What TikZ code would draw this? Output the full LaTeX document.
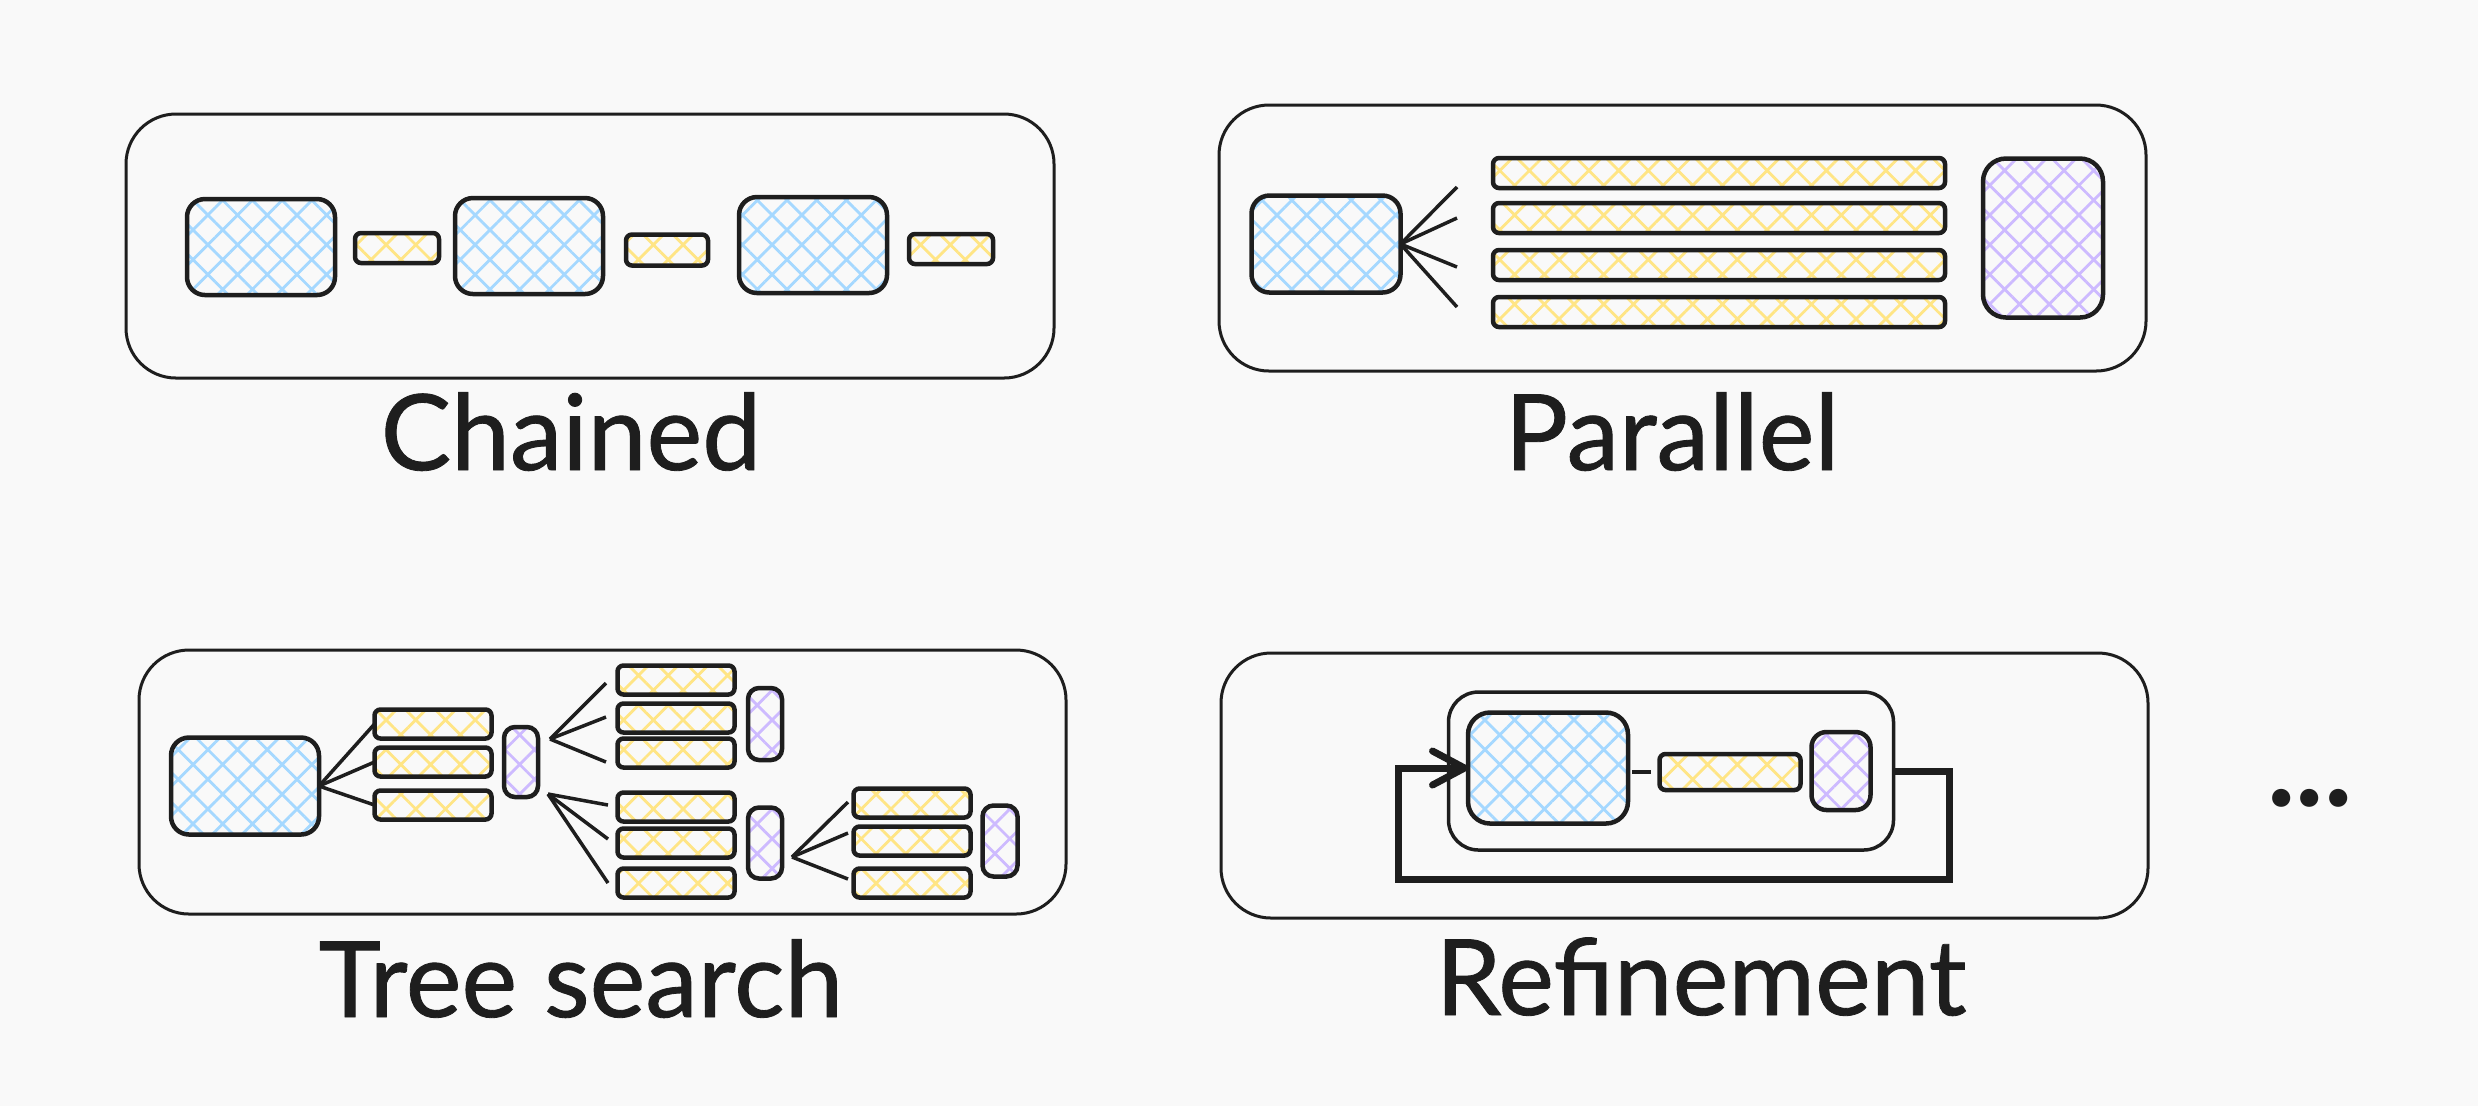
\documentclass[tikz,border=0pt]{standalone}
\usepackage{fontspec}
\setmainfont{Lato}
\newfontfamily\titlefont{Lato}[FakeBold=0.8]
\usetikzlibrary{patterns.meta,arrows.meta}
\definecolor{ink}{HTML}{1E1E1E}
\definecolor{paper}{HTML}{F9F9F9}
\definecolor{hblue}{HTML}{A5D8FF}
\definecolor{hyellow}{HTML}{FFE585}
\definecolor{hpurple}{HTML}{CDBAFF}
\begin{document}
\begin{tikzpicture}[x=0.1mm,y=-0.1mm,
		frame/.style={draw=ink,line width=0.3mm,rounded corners=5mm},
		box/.style 2 args={draw=ink,line width=0.45mm,inner sep=0pt,outer sep=0pt,minimum width=#1,minimum height=#2},
		llm/.style 2 args={box={#1}{#2},rounded corners=1.8mm,pattern={Hatch[angle=45,distance=2.1mm,line width=0.28mm]},pattern color=hblue},
		gen/.style 2 args={box={#1}{#2},rounded corners=0.6mm,pattern={Hatch[angle=45,distance=2.1mm,line width=0.28mm]},pattern color=hyellow},
		judge/.style 2 args={box={#1}{#2},rounded corners=1.1mm,pattern={Hatch[angle=45,distance=2.1mm,line width=0.28mm]},pattern color=hpurple},
		fan/.style={draw=ink,line width=0.35mm},
		feedback/.style={draw=ink,line width=0.7mm,-{Straight Barb[round,length=3.2mm,width=3.4mm]}},
		patname/.style={font=\titlefont\fontsize{30}{36}\selectfont,text=ink,anchor=base,inner sep=0pt}]
		\fill[paper](0, 0) rectangle (2478, 1106);
		\useasboundingbox(0, 0) rectangle (2478, 1106);
		% chained
		\draw[frame](126, 114) rectangle (1054, 378);
		\node[llm={14.8mm}{9.6mm}] (cb1) at (261, 247) {};
		\node[gen={8.4mm}{3.0mm}] (cy1) at (397, 248) {};
		\node[llm={14.8mm}{9.6mm}] (cb2) at (529, 246) {};
		\node[gen={8.2mm}{3.1mm}] (cy2) at (667, 250) {};
		\node[llm={14.8mm}{9.6mm}] (cb3) at (813, 245) {};
		\node[gen={8.4mm}{3.0mm}] (cy3) at (951, 249) {};
		\node[patname] (chained) at (571, 470) {Chained};
		% parallel
		\draw[frame](1219, 105) rectangle (2146, 371);
		\node[llm={14.9mm}{9.7mm}] (pb) at (1326, 244) {};
		\foreach \i/\y in {1/173, 2/218, 3/265, 4/312}
			\node[gen={45.2mm}{3.0mm}] (pr\i) at (1719, \y) {};
		\node[judge={12.0mm}{15.9mm},rounded corners=2.3mm] (pv) at (2043, 238) {};
		\foreach \i/\y in {1/187, 2/218, 3/267, 4/307} {
			\coordinate (pf\i) at (1457, \y);
			\draw[fan](pb.east) -- (pf\i);
		}
		\node[patname] (parallel) at (1672, 470) {Parallel};
		% tree search
		\draw[frame](139, 650) rectangle (1066, 914);
		\node[llm={14.8mm}{9.7mm}] (tb) at (245, 786) {};
		\foreach \n/\x/\ya/\yb/\yc in {1/433/724/762/805, 2/676/680/718/753, 3/676/807/843/883, 4/912/803/841/883} {
			\node[gen={11.7mm}{2.9mm}] (t\n a) at (\x, \ya) {};
			\node[gen={11.7mm}{2.9mm}] (t\n b) at (\x, \yb) {};
			\node[gen={11.7mm}{2.9mm}] (t\n c) at (\x, \yc) {};
		}
		\node[judge={3.4mm}{7.0mm}] (tv1) at (521, 762) {};
		\node[judge={3.4mm}{7.2mm}] (tv2) at (765, 724) {};
		\node[judge={3.4mm}{7.1mm}] (tv3) at (765, 843) {};
		\node[judge={3.5mm}{7.1mm}] (tv4) at (1000, 841) {};
		\foreach \s in {a, b, c}
			\draw[fan](tb.east) -- (t1\s.west);
		\coordinate (tu) at (550, 739);
		\coordinate (td) at (548, 794);
		\coordinate (tw) at (792, 857);
		\foreach \s/\y in {a/683, b/717, c/762} {
			\coordinate (tu\s) at (606, \y);
			\draw[fan](tu) -- (tu\s);
		}
		\foreach \s/\y in {a/805, b/839, c/883} {
			\coordinate (td\s) at (608, \y);
			\draw[fan](td) -- (td\s);
		}
		\foreach \s/\y in {a/802, b/833, c/879} {
			\coordinate (tw\s) at (848, \y);
			\draw[fan](tw) -- (tw\s);
		}
		\node[patname] (tree) at (581, 1017) {Tree search};
		% refinement
		\draw[frame](1221, 653) rectangle (2148, 918);
		\node[box={44.5mm}{15.8mm},line width=0.35mm,rounded corners=3mm] (rin) at (1671, 771) {};
		\node[llm={16.0mm}{11.1mm},rounded corners=2.2mm] (rb) at (1548, 768) {};
		\node[gen={14.1mm}{3.6mm}] (ry) at (1730, 772) {};
		\node[judge={5.9mm}{7.8mm},rounded corners=1.5mm] (rv) at (1841, 771) {};
		\draw[fan,line width=0.4mm,shorten <=0.4mm,shorten >=0.9mm](ry.west -| rb.east) -- (ry.west);
		\coordinate (rl1) at (1949, 879);
		\coordinate (rl2) at (1398, 879);
		\draw[feedback](rin.east) -| (rl1) -- (rl2) |- (rb.west);
		\node[patname] (refine) at (1701, 1015) {Refinement};
		% more
		\node[font=\fontsize{34}{40}\selectfont\bfseries,text=ink,inner sep=0pt] (more) at (2310, 798) {...};
	\end{tikzpicture}
\end{document}
